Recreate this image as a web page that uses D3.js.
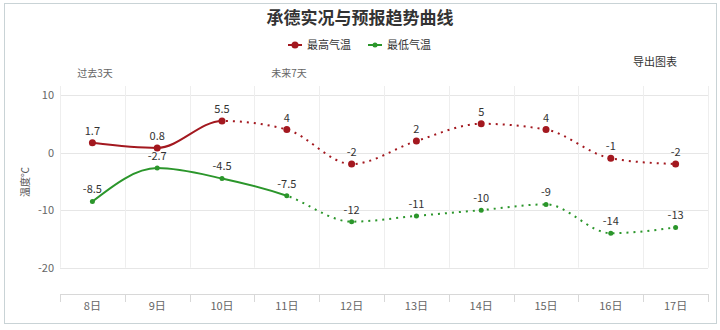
<!DOCTYPE html>
<html><head><meta charset="utf-8">
<script src="https://cdn.jsdelivr.net/npm/d3@7/dist/d3.min.js"></script>
<style>
html,body{margin:0;padding:0;background:#fff;}
svg{display:block;font-family:"Noto Sans CJK SC","Noto Sans",sans-serif;}
</style></head>
<body><svg id="c" width="720" height="330"></svg>
<script>
const categories = ["8日","9日","10日","11日","12日","13日","14日","15日","16日","17日"];
const highTemps = [1.7, 0.8, 5.5, 4, -2, 2, 5, 4, -1, -2];
const lowTemps = [-8.5, -2.7, -4.5, -7.5, -12, -11, -10, -9, -14, -13];
const highLabels = ["1.7","0.8","5.5","4","-2","2","5","4","-1","-2"];
const lowLabels = ["-8.5","-2.7","-4.5","-7.5","-12","-11","-10","-9","-14","-13"];
const highSolidEnd = "10日";
const lowSolidEnd = "11日";
const yTicks = [10, 0, -10, -20];
const seriesNames = ["最高气温","最低气温"];

(function(){
const svg = d3.select("#c");
const W = 720, H = 330;
const pLeft = 60, pRight = 708, pTop = 95, pBottom = 267.7;
const red = "#a3181f", green = "#2b962b";

// frame
svg.append("rect").attr("x",4.5).attr("y",3.5).attr("width",712).attr("height",320)
  .attr("fill","#fff").attr("stroke","#c9d3d6").attr("stroke-width",1);

const x = d3.scaleBand().domain(categories).range([pLeft, pRight]);
const y = d3.scaleLinear().domain([-20, 10]).range([pBottom, pTop]);

// horizontal grid
svg.append("g").selectAll("line").data(yTicks).join("line")
  .attr("x1", pLeft).attr("x2", pRight)
  .attr("y1", d => Math.round(y(d))+0.5).attr("y2", d => Math.round(y(d))+0.5)
  .attr("stroke","#e6e6e6");
// vertical grid at band boundaries
const bounds = categories.map(c => x(c)).concat([x(categories[categories.length-1]) + x.bandwidth()]);
svg.append("g").selectAll("line").data(bounds).join("line")
  .attr("x1", d => Math.round(d)+0.5).attr("x2", d => Math.round(d)+0.5)
  .attr("y1", 86).attr("y2", pBottom)
  .attr("stroke","#eeeeee");

// y tick labels
svg.append("g").selectAll("text").data(yTicks).join("text")
  .attr("x", 54).attr("y", d => y(d)+4).attr("text-anchor","end")
  .attr("font-size",11).attr("fill","#666").text(d => d);

// x axis
const axisY = 294;
const xAxis = svg.append("g").attr("transform",`translate(0,${axisY})`)
  .call(d3.axisBottom(x).tickSize(0).tickPadding(8));
xAxis.select(".domain").attr("stroke","#d8d8d8");
xAxis.selectAll("text").attr("font-size",11).attr("fill","#666")
  .attr("font-family",'"Noto Sans CJK SC","Noto Sans",sans-serif');
svg.append("g").selectAll("line").data(bounds).join("line")
  .attr("x1", d => Math.round(d)+0.5).attr("x2", d => Math.round(d)+0.5)
  .attr("y1", axisY).attr("y2", axisY+8).attr("stroke","#d8d8d8");

// y axis title
svg.append("text").attr("transform","translate(29,182) rotate(-90)")
  .attr("text-anchor","middle").attr("font-size",10).attr("fill","#555").text("温度℃");

// title
svg.append("text").attr("x",360).attr("y",24).attr("text-anchor","middle")
  .attr("font-size",17).attr("font-weight","bold").attr("fill","#333")
  .text("承德实况与预报趋势曲线");

// legend
const legend = svg.append("g");
[[288, red, seriesNames[0], 3.5], [368, green, seriesNames[1], 2.5]].forEach(([lx, col, name, r]) => {
  legend.append("line").attr("x1",lx).attr("x2",lx+14).attr("y1",45).attr("y2",45)
    .attr("stroke",col).attr("stroke-width",2);
  legend.append("circle").attr("cx",lx+7).attr("cy",45).attr("r",r).attr("fill",col);
  legend.append("text").attr("x",lx+19).attr("y",49).attr("font-size",11).attr("fill","#333").text(name);
});

// annotations
svg.append("text").attr("x",95).attr("y",77).attr("text-anchor","middle")
  .attr("font-size",10).attr("fill","#666").text("过去3天");
svg.append("text").attr("x",289).attr("y",77).attr("text-anchor","middle")
  .attr("font-size",10).attr("fill","#666").text("未来7天");
svg.append("text").attr("x",655).attr("y",66).attr("text-anchor","middle")
  .attr("font-size",11).attr("fill","#333").text("导出图表");

const cx = c => x(c) + x.bandwidth()/2;
const defs = svg.append("defs");
function addClip(id, x0, x1) {
  defs.append("clipPath").attr("id", id).append("rect")
    .attr("x", x0).attr("y", 0).attr("width", x1 - x0).attr("height", H);
}
addClip("hs", 0, cx(highSolidEnd));
addClip("hd", cx(highSolidEnd), W);
addClip("ls", 0, cx(lowSolidEnd));
addClip("ld", cx(lowSolidEnd), W);

const line = d3.line().x((d,i) => cx(categories[i])).y(d => y(d)).curve(d3.curveMonotoneX);

function drawSeries(vals, labels, col, r, solidClip, dotClip) {
  const g = svg.append("g");
  g.append("path").attr("d", line(vals)).attr("fill","none").attr("stroke",col)
    .attr("stroke-width",2).attr("clip-path",`url(#${solidClip})`);
  g.append("path").attr("d", line(vals)).attr("fill","none").attr("stroke",col)
    .attr("stroke-width",2).attr("stroke-dasharray","2,5").attr("clip-path",`url(#${dotClip})`);
  g.selectAll("circle").data(vals).join("circle")
    .attr("cx",(d,i)=>cx(categories[i])).attr("cy",d=>y(d)).attr("r",r).attr("fill",col);
  g.selectAll("text").data(vals).join("text")
    .attr("x",(d,i)=>cx(categories[i])).attr("y",d=>y(d)-8).attr("text-anchor","middle")
    .attr("font-size",11).attr("fill","#333").text((d,i)=>labels[i]);
}
drawSeries(highTemps, highLabels, red, 3.5, "hs", "hd");
drawSeries(lowTemps, lowLabels, green, 2.5, "ls", "ld");
})();
</script></body></html>
